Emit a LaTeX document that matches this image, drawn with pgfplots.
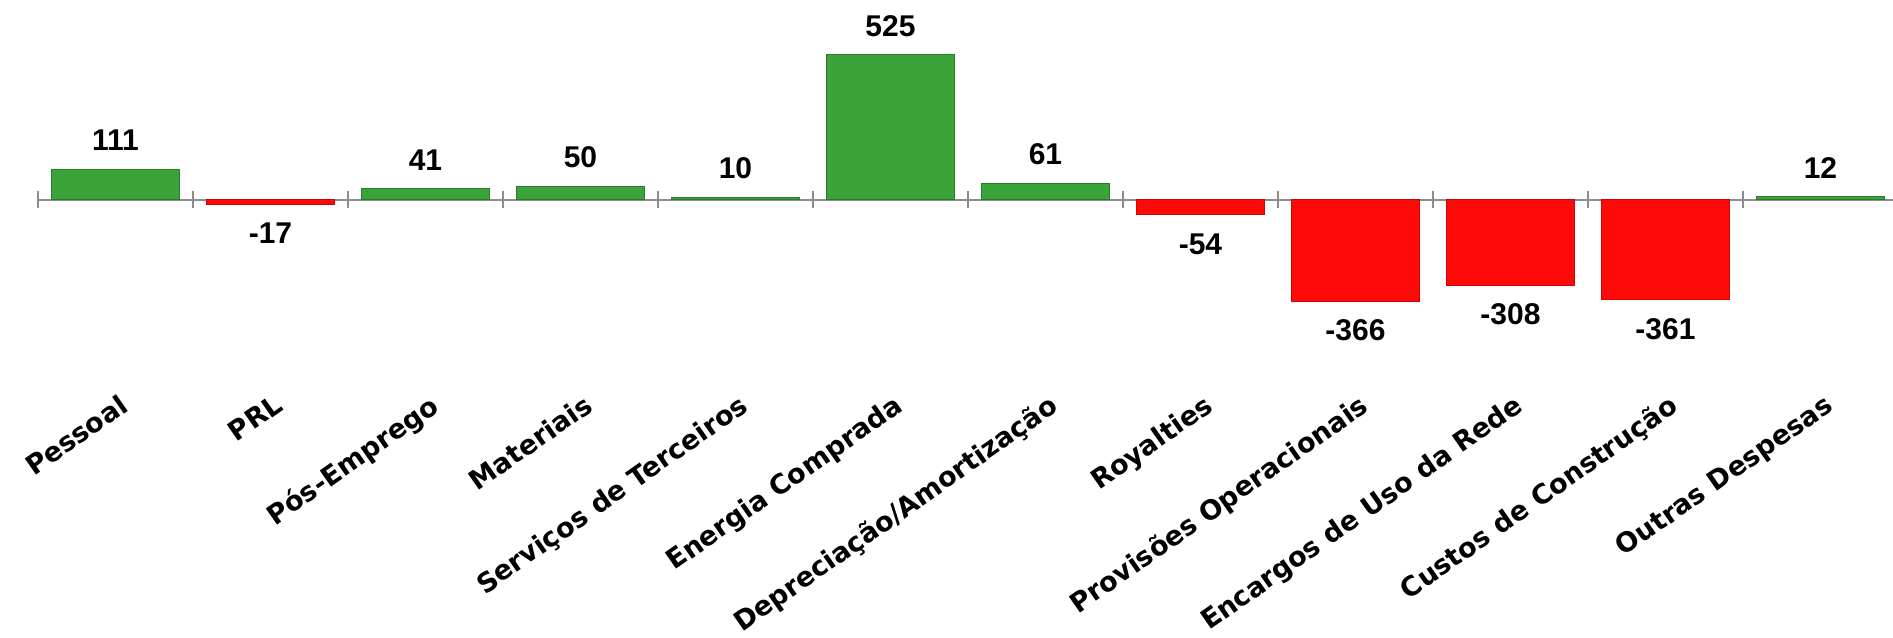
\documentclass[border=0pt]{standalone}
\usepackage{fontspec}
\setmainfont{Liberation Sans}
\newfontfamily\labelfont{DejaVu Sans}
\usepackage{pgfplots}
\pgfplotsset{compat=1.18}
\definecolor{barverde}{RGB}{58,163,58}
\definecolor{barvermelho}{RGB}{255,8,8}
\definecolor{eixo}{RGB}{140,140,140}

\begin{document}
\begin{tikzpicture}
\begin{axis}[
  name=ax,
  scale only axis,
  width=927.5pt, height=319pt,
  xmin=-0.5, xmax=11.468,
  ymin=-1586, ymax=724,
  axis y line=none,
  axis x line*=middle,
  x axis line style={eixo, line width=1pt},
  ybar, bar width=64pt, bar shift=0pt,
  xtick={0,...,11},
  xticklabels={Pessoal,PRL,Pós-Emprego,Materiais,Serviços de Terceiros,Energia Comprada,Depreciação/Amortização,Royalties,Provisões Operacionais,Encargos de Uso da Rede,Custos de Construção,Outras Despesas},
  major x tick style={draw=none},
  minor xtick={-0.5,0.5,...,11.5},
  minor x tick style={eixo, line width=1pt},
  minor tick length=8.5pt,
  tick align=center,
  xticklabel style={font=\labelfont\bfseries\fontsize{13.5}{15}\selectfont, rotate=35, anchor=north east, inner sep=0pt, xshift=1.5pt},
  xticklabel shift=95pt,
  nodes near coords,
  nodes near coords align={vertical},
  every node near coord/.append style={font=\bfseries\fontsize{15}{18}\selectfont, text=black, inner sep=9pt},
  /pgf/number format/assume math mode=true,
  clip=false,
]
% despesas que aumentaram
\addplot[fill=barverde, draw=barverde!75!black, line width=0.5pt] coordinates {
  (0,111) (2,41) (3,50) (4,10) (5,525) (6,61) (11,12)
};
% despesas que diminuiram
\addplot[fill=barvermelho, draw=barvermelho!80!black, line width=0.5pt] coordinates {
  (1,-17) (7,-54) (8,-366) (9,-308) (10,-361)
};
\end{axis}
\pgfresetboundingbox
\path ([xshift=-19pt]ax.south west) rectangle (ax.north east);
\end{tikzpicture}
\end{document}
